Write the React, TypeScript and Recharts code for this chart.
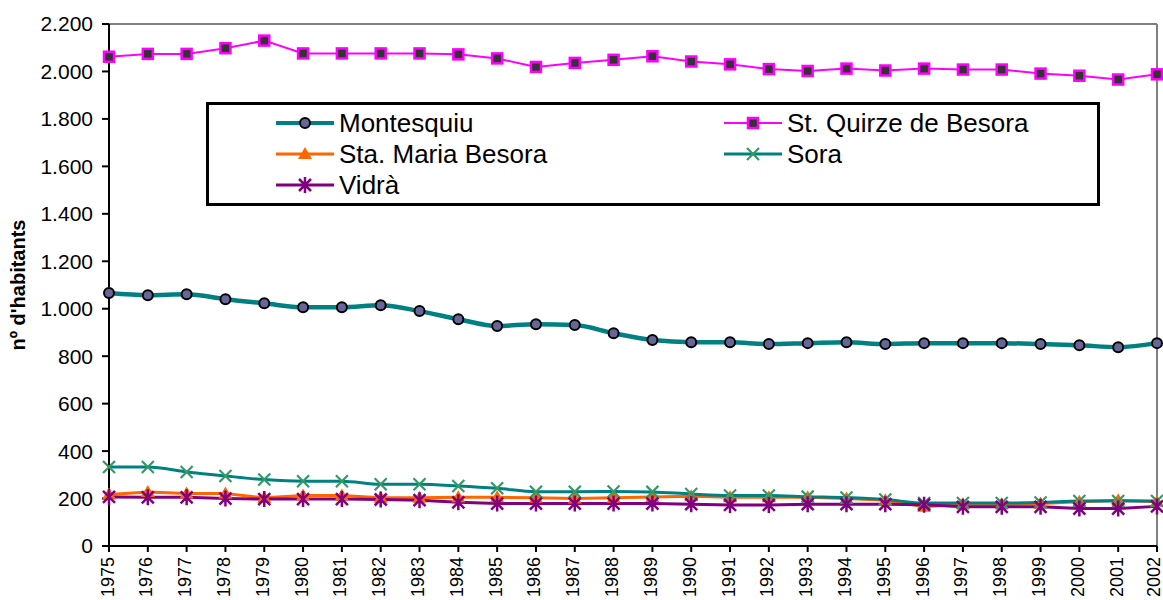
import { LineChart, Line, XAxis, YAxis, ReferenceLine, Legend } from 'recharts';

const YEARS = [
    '1975', '1976', '1977', '1978', '1979', '1980', '1981', '1982', '1983', '1984',
    '1985', '1986', '1987', '1988', '1989', '1990', '1991', '1992', '1993', '1994',
    '1995', '1996', '1997', '1998', '1999', '2000', '2001', '2002',
];

const MONTESQUIU = [
    1066, 1057, 1061, 1040, 1023, 1006, 1006, 1015, 990, 956,
    927, 935, 931, 897, 868, 859, 859, 851, 855, 859,
    851, 855, 855, 855, 851, 846, 838, 855,
];
const ST_QUIRZE = [
    2062, 2074, 2074, 2098, 2130, 2076, 2076, 2076, 2076, 2072,
    2055, 2019, 2036, 2049, 2064, 2042, 2030, 2010, 2002, 2012,
    2004, 2012, 2008, 2008, 1991, 1982, 1966, 1988,
];
const STA_MARIA = [
    217, 228, 221, 221, 203, 213, 213, 203, 203, 205,
    205, 203, 200, 203, 207, 210, 205, 205, 205, 200,
    193, 165, 176, 176, 179, 187, 193, 186,
];
const SORA = [
    333, 333, 312, 295, 280, 273, 273, 260, 260, 253,
    243, 229, 229, 230, 228, 219, 213, 213, 208, 204,
    196, 181, 181, 181, 183, 190, 190, 190,
];
const VIDRA = [
    207, 205, 205, 200, 198, 198, 198, 196, 193, 184,
    179, 179, 179, 179, 179, 176, 173, 173, 176, 176,
    176, 174, 165, 165, 165, 158, 158, 167,
];

const Y_TICKS = [0, 200, 400, 600, 800, 1000, 1200, 1400, 1600, 1800, 2000, 2200];

const FONT = '"Liberation Sans", Arial, sans-serif';

const data = YEARS.map((year, i) => ({
    year,
    montesquiu: MONTESQUIU[i],
    stQuirze: ST_QUIRZE[i],
    staMaria: STA_MARIA[i],
    sora: SORA[i],
    vidra: VIDRA[i],
}));

type MarkerKind = 'circle' | 'square' | 'triangle' | 'cross' | 'star';

function Marker({ kind, cx, cy }: { kind: MarkerKind; cx: number; cy: number }) {
    switch (kind) {
        case 'circle':
            return <circle cx={cx} cy={cy} r={5} fill="#666699" stroke="#000" strokeWidth={2} />;
        case 'square':
            return (
                <rect x={cx - 5} y={cy - 5} width={10} height={10} fill="#333333" stroke="#ff00ff" strokeWidth={2.5} />
            );
        case 'triangle':
            return <path d={`M${cx},${cy - 7} L${cx + 7},${cy + 5} L${cx - 7},${cy + 5} Z`} fill="#ff6600" />;
        case 'cross':
            return (
                <path
                    d={`M${cx - 6},${cy - 6} L${cx + 6},${cy + 6} M${cx - 6},${cy + 6} L${cx + 6},${cy - 6}`}
                    stroke="#339966"
                    strokeWidth={2.2}
                />
            );
        case 'star':
            return (
                <path
                    d={`M${cx - 6},${cy - 6} L${cx + 6},${cy + 6} M${cx - 6},${cy + 6} L${cx + 6},${cy - 6} M${cx},${cy - 8} L${cx},${cy + 8}`}
                    stroke="#800080"
                    strokeWidth={2.5}
                />
            );
    }
}

const SERIES: {
    key: string;
    name: string;
    color: string;
    width: number;
    marker: MarkerKind;
    type: 'monotone' | 'linear';
}[] = [
    { key: 'montesquiu', name: 'Montesquiu', color: '#008080', width: 4.5, marker: 'circle', type: 'monotone' },
    { key: 'stQuirze', name: 'St. Quirze de Besora', color: '#ff00ff', width: 2, marker: 'square', type: 'linear' },
    { key: 'staMaria', name: 'Sta. Maria Besora', color: '#ff6600', width: 3, marker: 'triangle', type: 'linear' },
    { key: 'sora', name: 'Sora', color: '#008080', width: 3, marker: 'cross', type: 'monotone' },
    { key: 'vidra', name: 'Vidrà', color: '#800080', width: 3, marker: 'star', type: 'linear' },
];

const fmt = (v: number) => v.toLocaleString('de-DE');

function YearTick(props: any) {
    const { y, payload } = props;
    // last label sits on the chart edge, nudge it in a little
    const x = payload.value === YEARS[YEARS.length - 1] ? props.x - 2 : props.x;
    return (
        <text
            x={x}
            y={y}
            dy="0.25em"
            transform={`rotate(-90, ${x}, ${y})`}
            textAnchor="end"
            fontFamily={FONT}
            fontSize={18}
            fill="#000"
        >
            {payload.value}
        </text>
    );
}

function LegendBox() {
    return (
        <div
            style={{
                width: 894,
                height: 104,
                boxSizing: 'border-box',
                border: '3px solid #000',
                background: '#fff',
                position: 'relative',
                fontFamily: FONT,
                fontSize: 26,
                color: '#000',
            }}
        >
            {SERIES.map((s, i) => {
                const col = i % 2;
                const row = Math.floor(i / 2);
                return (
                    <div
                        key={s.key}
                        style={{
                            position: 'absolute',
                            left: col === 0 ? 66 : 514,
                            top: 18 + row * 31 - 16,
                            height: 32,
                            display: 'flex',
                            alignItems: 'center',
                            whiteSpace: 'nowrap',
                        }}
                    >
                        <svg width={60} height={32} style={{ marginRight: 4 }}>
                            <line x1={1} y1={16} x2={59} y2={16} stroke={s.color} strokeWidth={Math.min(s.width, 4)} />
                            <Marker kind={s.marker} cx={30} cy={16} />
                        </svg>
                        <span>{s.name}</span>
                    </div>
                );
            })}
        </div>
    );
}

export default function App() {
    return (
        <div style={{ position: 'absolute', left: 0, top: 0, background: '#fff' }}>
            <LineChart width={1163} height={600} data={data} margin={{ top: 24, right: 6, bottom: 0, left: 0 }}>
                <XAxis
                    dataKey="year"
                    interval={0}
                    height={54}
                    tick={<YearTick />}
                    tickSize={6}
                    tickMargin={5}
                    axisLine={{ stroke: '#000', strokeWidth: 2 }}
                    tickLine={{ stroke: '#000', strokeWidth: 2 }}
                />
                <YAxis
                    width={109}
                    domain={[0, 2200]}
                    ticks={Y_TICKS}
                    interval={0}
                    tickFormatter={fmt}
                    tick={{ fontFamily: FONT, fontSize: 21, fill: '#000' }}
                    tickSize={7}
                    tickMargin={9}
                    axisLine={{ stroke: '#000', strokeWidth: 2 }}
                    tickLine={{ stroke: '#000', strokeWidth: 2 }}
                    label={{
                        content: () => (
                            <text
                                x={25}
                                y={285}
                                transform="rotate(-90, 25, 285)"
                                textAnchor="middle"
                                fontFamily={FONT}
                                fontWeight="bold"
                                fontSize={20}
                                fill="#000"
                            >
                                nº d'habitants
                            </text>
                        ),
                    }}
                />
                <ReferenceLine y={2200} stroke="#808080" strokeWidth={2} />
                <ReferenceLine x="2002" stroke="#808080" strokeWidth={2} />
                {SERIES.map((s) => (
                    <Line
                        key={s.key}
                        dataKey={s.key}
                        name={s.name}
                        type={s.type}
                        stroke={s.color}
                        strokeWidth={s.width}
                        isAnimationActive={false}
                        dot={(p: any) => <Marker key={`${s.key}-${p.index}`} kind={s.marker} cx={p.cx} cy={p.cy} />}
                        activeDot={false}
                    />
                ))}
                <Legend
                    layout="horizontal"
                    verticalAlign="middle"
                    align="center"
                    wrapperStyle={{ left: 206, top: 102, width: 894, height: 104 }}
                    content={() => <LegendBox />}
                />
            </LineChart>
        </div>
    );
}
